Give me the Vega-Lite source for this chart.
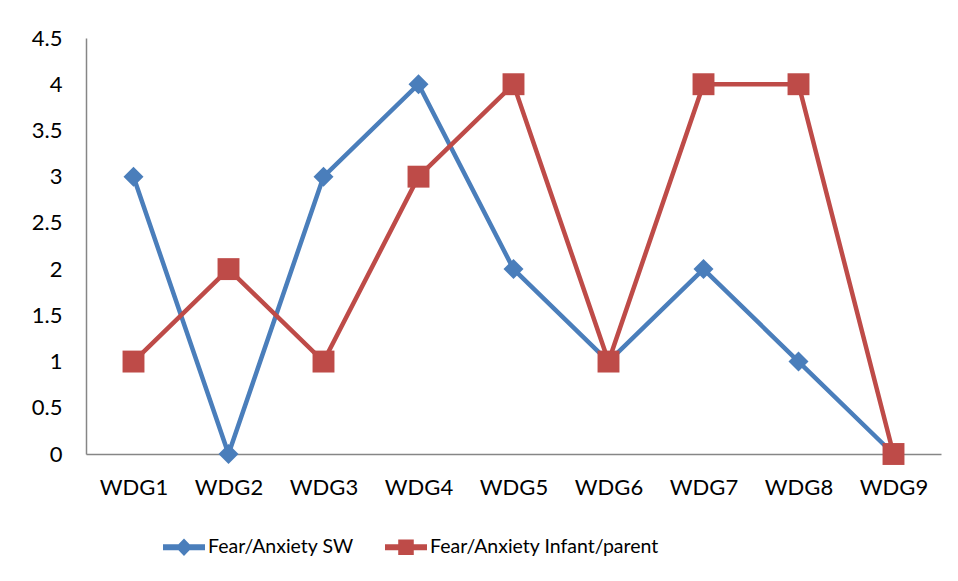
{
  "$schema": "https://vega.github.io/schema/vega-lite/v6.json",
  "width": 855,
  "height": 416,
  "autosize": {"type": "none"},
  "padding": {"left": 86, "top": 38, "right": 17, "bottom": 127},
  "background": "white",
  "config": {"view": {"stroke": null}, "font": "Lato"},
  "data": {
    "values": [
      {"group": "WDG1", "series": "Fear/Anxiety SW", "value": 3},
      {"group": "WDG2", "series": "Fear/Anxiety SW", "value": 0},
      {"group": "WDG3", "series": "Fear/Anxiety SW", "value": 3},
      {"group": "WDG4", "series": "Fear/Anxiety SW", "value": 4},
      {"group": "WDG5", "series": "Fear/Anxiety SW", "value": 2},
      {"group": "WDG6", "series": "Fear/Anxiety SW", "value": 1},
      {"group": "WDG7", "series": "Fear/Anxiety SW", "value": 2},
      {"group": "WDG8", "series": "Fear/Anxiety SW", "value": 1},
      {"group": "WDG9", "series": "Fear/Anxiety SW", "value": 0},
      {"group": "WDG1", "series": "Fear/Anxiety Infant/parent", "value": 1},
      {"group": "WDG2", "series": "Fear/Anxiety Infant/parent", "value": 2},
      {"group": "WDG3", "series": "Fear/Anxiety Infant/parent", "value": 1},
      {"group": "WDG4", "series": "Fear/Anxiety Infant/parent", "value": 3},
      {"group": "WDG5", "series": "Fear/Anxiety Infant/parent", "value": 4},
      {"group": "WDG6", "series": "Fear/Anxiety Infant/parent", "value": 1},
      {"group": "WDG7", "series": "Fear/Anxiety Infant/parent", "value": 4},
      {"group": "WDG8", "series": "Fear/Anxiety Infant/parent", "value": 4},
      {"group": "WDG9", "series": "Fear/Anxiety Infant/parent", "value": 0}
    ]
  },
  "encoding": {
    "x": {
      "field": "group", "type": "ordinal", "sort": null,
      "scale": {"type": "point", "padding": 0.5},
      "axis": {"title": null, "labelAngle": 0, "ticks": false, "domainColor": "#868686", "domainWidth": 1.5,
               "labelFont": "Lato", "labelFontSize": 22, "labelColor": "#000", "labelPadding": 23}
    },
    "y": {
      "field": "value", "type": "quantitative",
      "scale": {"domain": [0, 4.5], "nice": false, "zero": true},
      "axis": {"title": null, "values": [0, 0.5, 1, 1.5, 2, 2.5, 3, 3.5, 4, 4.5], "format": "~g", "grid": false, "ticks": false,
               "domainColor": "#868686", "domainWidth": 1.5, "labelFont": "Lato", "labelFontSize": 22,
               "labelColor": "#000", "labelPadding": 24, "labelFlush": false, "labelOverlap": false}
    },
    "color": {
      "field": "series", "type": "nominal",
      "scale": {"domain": ["Fear/Anxiety SW", "Fear/Anxiety Infant/parent"], "range": ["#4A7EBB", "#BE4B48"]},
      "legend": {
        "title": null, "orient": "none", "direction": "horizontal", "legendX": 77, "legendY": 488,
        "padding": 0, "symbolSize": 1764, "labelFont": "Lato", "labelFontSize": 19.5, "labelColor": "#000",
        "labelOffset": 3, "labelLimit": 400, "columnPadding": 31, "symbolStrokeWidth": 0,
        "encode": {
          "symbols": {
            "update": {
              "shape": {"signal": "datum.value === 'Fear/Anxiety SW' ? 'M-1,-0.14L1,-0.14L1,0.14L-1,0.14Z M0,-0.42L0.4,0L0,0.42L-0.4,0Z' : 'M-1,-0.14L1,-0.14L1,0.14L-1,0.14Z M-0.37,-0.37L0.37,-0.37L0.37,0.37L-0.37,0.37Z'"},
              "fill": {"signal": "datum.value === 'Fear/Anxiety SW' ? '#4A7EBB' : '#BE4B48'"},
              "stroke": {"value": "transparent"},
              "opacity": {"value": 1}
            }
          }
        }
      }
    }
  },
  "layer": [
    {"mark": {"type": "line", "strokeWidth": 4.5}},
    {
      "transform": [{"filter": "datum.series === 'Fear/Anxiety SW'"}],
      "mark": {"type": "point", "shape": "diamond", "filled": true, "opacity": 1, "size": 400, "strokeWidth": 0}
    },
    {
      "transform": [{"filter": "datum.series === 'Fear/Anxiety Infant/parent'"}],
      "mark": {"type": "point", "shape": "square", "filled": true, "opacity": 1, "size": 480, "strokeWidth": 0}
    }
  ]
}
